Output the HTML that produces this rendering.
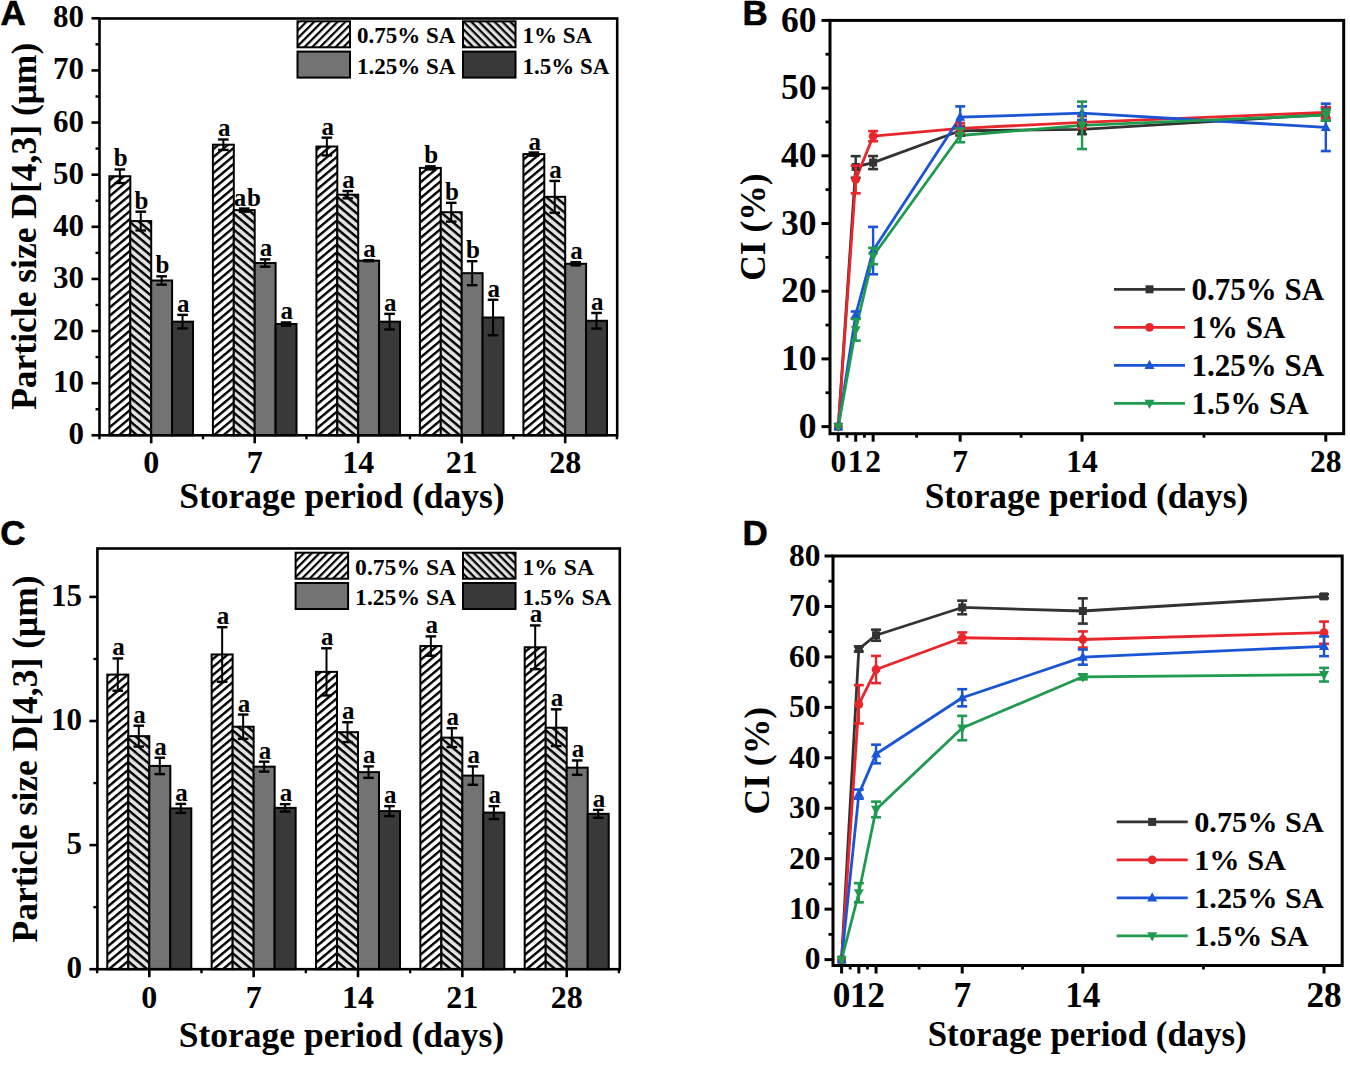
<!DOCTYPE html><html><head><meta charset="utf-8"><style>html,body{margin:0;padding:0;background:#fff}svg{display:block}</style></head><body>
<svg width="1350" height="1066" viewBox="0 0 1350 1066">
<defs>
<pattern id="h1" patternUnits="userSpaceOnUse" width="5.5" height="5.5" patternTransform="rotate(-45)"><rect width="5.5" height="5.5" fill="#fff"/><rect y="0" width="5.5" height="2.2" fill="#000"/></pattern>
<pattern id="h2" patternUnits="userSpaceOnUse" width="5.5" height="5.5" patternTransform="rotate(45)"><rect width="5.5" height="5.5" fill="#e2e2e2"/><rect y="0" width="5.5" height="2.2" fill="#000"/></pattern>
<pattern id="b1" patternUnits="userSpaceOnUse" width="6.1" height="6.1" patternTransform="rotate(-40)"><rect width="6.1" height="6.1" fill="#fff"/><rect y="0" width="6.1" height="2.4" fill="#000"/></pattern>
<pattern id="b2" patternUnits="userSpaceOnUse" width="6.1" height="6.1" patternTransform="rotate(40)"><rect width="6.1" height="6.1" fill="#e2e2e2"/><rect y="0" width="6.1" height="2.4" fill="#000"/></pattern>
</defs>
<rect width="1350" height="1066" fill="#fff"/>
<rect x="109.4" y="176.24" width="20.9" height="259.06" fill="url(#b1)" stroke="#000" stroke-width="2"/>
<rect x="130.3" y="221.07" width="20.9" height="214.23" fill="url(#b2)" stroke="#000" stroke-width="2"/>
<rect x="151.2" y="280.49" width="20.9" height="154.81" fill="#737373" stroke="#000" stroke-width="2"/>
<rect x="172.1" y="321.67" width="20.9" height="113.63" fill="#393939" stroke="#000" stroke-width="2"/>
<rect x="212.9" y="144.7" width="20.9" height="290.6" fill="url(#b1)" stroke="#000" stroke-width="2"/>
<rect x="233.8" y="210.12" width="20.9" height="225.18" fill="url(#b2)" stroke="#000" stroke-width="2"/>
<rect x="254.7" y="263.03" width="20.9" height="172.27" fill="#737373" stroke="#000" stroke-width="2"/>
<rect x="275.6" y="324.01" width="20.9" height="111.29" fill="#393939" stroke="#000" stroke-width="2"/>
<rect x="316.4" y="146.53" width="20.9" height="288.77" fill="url(#b1)" stroke="#000" stroke-width="2"/>
<rect x="337.3" y="194.69" width="20.9" height="240.61" fill="url(#b2)" stroke="#000" stroke-width="2"/>
<rect x="358.2" y="260.68" width="20.9" height="174.62" fill="#737373" stroke="#000" stroke-width="2"/>
<rect x="379.1" y="321.67" width="20.9" height="113.63" fill="#393939" stroke="#000" stroke-width="2"/>
<rect x="419.9" y="167.9" width="20.9" height="267.4" fill="url(#b1)" stroke="#000" stroke-width="2"/>
<rect x="440.8" y="212.21" width="20.9" height="223.09" fill="url(#b2)" stroke="#000" stroke-width="2"/>
<rect x="461.7" y="273.19" width="20.9" height="162.11" fill="#737373" stroke="#000" stroke-width="2"/>
<rect x="482.6" y="317.5" width="20.9" height="117.8" fill="#393939" stroke="#000" stroke-width="2"/>
<rect x="523.4" y="154.09" width="20.9" height="281.21" fill="url(#b1)" stroke="#000" stroke-width="2"/>
<rect x="544.3" y="196.83" width="20.9" height="238.47" fill="url(#b2)" stroke="#000" stroke-width="2"/>
<rect x="565.2" y="263.81" width="20.9" height="171.49" fill="#737373" stroke="#000" stroke-width="2"/>
<rect x="586.1" y="320.78" width="20.9" height="114.52" fill="#393939" stroke="#000" stroke-width="2"/>
<line x1="119.85" y1="169.46" x2="119.85" y2="183.01" stroke="#000" stroke-width="2" stroke-linecap="butt"/>
<line x1="114.55" y1="169.46" x2="125.15" y2="169.46" stroke="#000" stroke-width="2.4" stroke-linecap="butt"/>
<line x1="114.55" y1="183.01" x2="125.15" y2="183.01" stroke="#000" stroke-width="2.4" stroke-linecap="butt"/>
<text x="120.65" y="166.46" font-family='"Liberation Serif", serif' font-weight="bold" font-size="25" text-anchor="middle" >b</text>
<line x1="140.75" y1="211.68" x2="140.75" y2="230.45" stroke="#000" stroke-width="2" stroke-linecap="butt"/>
<line x1="135.45" y1="211.68" x2="146.05" y2="211.68" stroke="#000" stroke-width="2.4" stroke-linecap="butt"/>
<line x1="135.45" y1="230.45" x2="146.05" y2="230.45" stroke="#000" stroke-width="2.4" stroke-linecap="butt"/>
<text x="141.55" y="208.68" font-family='"Liberation Serif", serif' font-weight="bold" font-size="25" text-anchor="middle" >b</text>
<line x1="161.65" y1="276.32" x2="161.65" y2="284.66" stroke="#000" stroke-width="2" stroke-linecap="butt"/>
<line x1="156.35" y1="276.32" x2="166.95" y2="276.32" stroke="#000" stroke-width="2.4" stroke-linecap="butt"/>
<line x1="156.35" y1="284.66" x2="166.95" y2="284.66" stroke="#000" stroke-width="2.4" stroke-linecap="butt"/>
<text x="162.45" y="273.32" font-family='"Liberation Serif", serif' font-weight="bold" font-size="25" text-anchor="middle" >b</text>
<line x1="182.55" y1="314.89" x2="182.55" y2="328.44" stroke="#000" stroke-width="2" stroke-linecap="butt"/>
<line x1="177.25" y1="314.89" x2="187.85" y2="314.89" stroke="#000" stroke-width="2.4" stroke-linecap="butt"/>
<line x1="177.25" y1="328.44" x2="187.85" y2="328.44" stroke="#000" stroke-width="2.4" stroke-linecap="butt"/>
<text x="183.35" y="311.89" font-family='"Liberation Serif", serif' font-weight="bold" font-size="25" text-anchor="middle" >a</text>
<line x1="223.35" y1="139.49" x2="223.35" y2="149.92" stroke="#000" stroke-width="2" stroke-linecap="butt"/>
<line x1="218.05" y1="139.49" x2="228.65" y2="139.49" stroke="#000" stroke-width="2.4" stroke-linecap="butt"/>
<line x1="218.05" y1="149.92" x2="228.65" y2="149.92" stroke="#000" stroke-width="2.4" stroke-linecap="butt"/>
<text x="224.15" y="136.49" font-family='"Liberation Serif", serif' font-weight="bold" font-size="25" text-anchor="middle" >a</text>
<line x1="244.25" y1="208.56" x2="244.25" y2="211.68" stroke="#000" stroke-width="2" stroke-linecap="butt"/>
<line x1="238.95" y1="208.56" x2="249.55" y2="208.56" stroke="#000" stroke-width="2.4" stroke-linecap="butt"/>
<line x1="238.95" y1="211.68" x2="249.55" y2="211.68" stroke="#000" stroke-width="2.4" stroke-linecap="butt"/>
<text x="247.75" y="205.56" font-family='"Liberation Serif", serif' font-weight="bold" font-size="25" text-anchor="middle" letter-spacing="0.8">ab</text>
<line x1="265.15" y1="259.38" x2="265.15" y2="266.68" stroke="#000" stroke-width="2" stroke-linecap="butt"/>
<line x1="259.85" y1="259.38" x2="270.45" y2="259.38" stroke="#000" stroke-width="2.4" stroke-linecap="butt"/>
<line x1="259.85" y1="266.68" x2="270.45" y2="266.68" stroke="#000" stroke-width="2.4" stroke-linecap="butt"/>
<text x="265.95" y="256.38" font-family='"Liberation Serif", serif' font-weight="bold" font-size="25" text-anchor="middle" >a</text>
<line x1="286.05" y1="322.45" x2="286.05" y2="325.58" stroke="#000" stroke-width="2" stroke-linecap="butt"/>
<line x1="280.75" y1="322.45" x2="291.35" y2="322.45" stroke="#000" stroke-width="2.4" stroke-linecap="butt"/>
<line x1="280.75" y1="325.58" x2="291.35" y2="325.58" stroke="#000" stroke-width="2.4" stroke-linecap="butt"/>
<text x="286.85" y="319.45" font-family='"Liberation Serif", serif' font-weight="bold" font-size="25" text-anchor="middle" >a</text>
<line x1="326.85" y1="137.67" x2="326.85" y2="155.39" stroke="#000" stroke-width="2" stroke-linecap="butt"/>
<line x1="321.55" y1="137.67" x2="332.15" y2="137.67" stroke="#000" stroke-width="2.4" stroke-linecap="butt"/>
<line x1="321.55" y1="155.39" x2="332.15" y2="155.39" stroke="#000" stroke-width="2.4" stroke-linecap="butt"/>
<text x="327.65" y="134.67" font-family='"Liberation Serif", serif' font-weight="bold" font-size="25" text-anchor="middle" >a</text>
<line x1="347.75" y1="191.04" x2="347.75" y2="198.34" stroke="#000" stroke-width="2" stroke-linecap="butt"/>
<line x1="342.45" y1="191.04" x2="353.05" y2="191.04" stroke="#000" stroke-width="2.4" stroke-linecap="butt"/>
<line x1="342.45" y1="198.34" x2="353.05" y2="198.34" stroke="#000" stroke-width="2.4" stroke-linecap="butt"/>
<text x="348.55" y="188.04" font-family='"Liberation Serif", serif' font-weight="bold" font-size="25" text-anchor="middle" >a</text>
<line x1="368.65" y1="260.16" x2="368.65" y2="261.2" stroke="#000" stroke-width="2" stroke-linecap="butt"/>
<line x1="363.35" y1="260.16" x2="373.95" y2="260.16" stroke="#000" stroke-width="2.4" stroke-linecap="butt"/>
<line x1="363.35" y1="261.2" x2="373.95" y2="261.2" stroke="#000" stroke-width="2.4" stroke-linecap="butt"/>
<text x="369.45" y="257.16" font-family='"Liberation Serif", serif' font-weight="bold" font-size="25" text-anchor="middle" >a</text>
<line x1="389.55" y1="313.85" x2="389.55" y2="329.49" stroke="#000" stroke-width="2" stroke-linecap="butt"/>
<line x1="384.25" y1="313.85" x2="394.85" y2="313.85" stroke="#000" stroke-width="2.4" stroke-linecap="butt"/>
<line x1="384.25" y1="329.49" x2="394.85" y2="329.49" stroke="#000" stroke-width="2.4" stroke-linecap="butt"/>
<text x="390.35" y="310.85" font-family='"Liberation Serif", serif' font-weight="bold" font-size="25" text-anchor="middle" >a</text>
<line x1="430.35" y1="166.34" x2="430.35" y2="169.46" stroke="#000" stroke-width="2" stroke-linecap="butt"/>
<line x1="425.05" y1="166.34" x2="435.65" y2="166.34" stroke="#000" stroke-width="2.4" stroke-linecap="butt"/>
<line x1="425.05" y1="169.46" x2="435.65" y2="169.46" stroke="#000" stroke-width="2.4" stroke-linecap="butt"/>
<text x="431.15" y="163.34" font-family='"Liberation Serif", serif' font-weight="bold" font-size="25" text-anchor="middle" >b</text>
<line x1="451.25" y1="202.82" x2="451.25" y2="221.59" stroke="#000" stroke-width="2" stroke-linecap="butt"/>
<line x1="445.95" y1="202.82" x2="456.55" y2="202.82" stroke="#000" stroke-width="2.4" stroke-linecap="butt"/>
<line x1="445.95" y1="221.59" x2="456.55" y2="221.59" stroke="#000" stroke-width="2.4" stroke-linecap="butt"/>
<text x="452.05" y="199.82" font-family='"Liberation Serif", serif' font-weight="bold" font-size="25" text-anchor="middle" >b</text>
<line x1="472.15" y1="261.2" x2="472.15" y2="285.18" stroke="#000" stroke-width="2" stroke-linecap="butt"/>
<line x1="466.85" y1="261.2" x2="477.45" y2="261.2" stroke="#000" stroke-width="2.4" stroke-linecap="butt"/>
<line x1="466.85" y1="285.18" x2="477.45" y2="285.18" stroke="#000" stroke-width="2.4" stroke-linecap="butt"/>
<text x="472.95" y="258.2" font-family='"Liberation Serif", serif' font-weight="bold" font-size="25" text-anchor="middle" >b</text>
<line x1="493.05" y1="299.77" x2="493.05" y2="335.22" stroke="#000" stroke-width="2" stroke-linecap="butt"/>
<line x1="487.75" y1="299.77" x2="498.35" y2="299.77" stroke="#000" stroke-width="2.4" stroke-linecap="butt"/>
<line x1="487.75" y1="335.22" x2="498.35" y2="335.22" stroke="#000" stroke-width="2.4" stroke-linecap="butt"/>
<text x="493.85" y="296.77" font-family='"Liberation Serif", serif' font-weight="bold" font-size="25" text-anchor="middle" >a</text>
<line x1="533.85" y1="152.52" x2="533.85" y2="155.65" stroke="#000" stroke-width="2" stroke-linecap="butt"/>
<line x1="528.55" y1="152.52" x2="539.15" y2="152.52" stroke="#000" stroke-width="2.4" stroke-linecap="butt"/>
<line x1="528.55" y1="155.65" x2="539.15" y2="155.65" stroke="#000" stroke-width="2.4" stroke-linecap="butt"/>
<text x="534.65" y="149.52" font-family='"Liberation Serif", serif' font-weight="bold" font-size="25" text-anchor="middle" >a</text>
<line x1="554.75" y1="180.93" x2="554.75" y2="212.73" stroke="#000" stroke-width="2" stroke-linecap="butt"/>
<line x1="549.45" y1="180.93" x2="560.05" y2="180.93" stroke="#000" stroke-width="2.4" stroke-linecap="butt"/>
<line x1="549.45" y1="212.73" x2="560.05" y2="212.73" stroke="#000" stroke-width="2.4" stroke-linecap="butt"/>
<text x="555.55" y="177.93" font-family='"Liberation Serif", serif' font-weight="bold" font-size="25" text-anchor="middle" >a</text>
<line x1="575.65" y1="262.25" x2="575.65" y2="265.37" stroke="#000" stroke-width="2" stroke-linecap="butt"/>
<line x1="570.35" y1="262.25" x2="580.95" y2="262.25" stroke="#000" stroke-width="2.4" stroke-linecap="butt"/>
<line x1="570.35" y1="265.37" x2="580.95" y2="265.37" stroke="#000" stroke-width="2.4" stroke-linecap="butt"/>
<text x="576.45" y="259.25" font-family='"Liberation Serif", serif' font-weight="bold" font-size="25" text-anchor="middle" >a</text>
<line x1="596.55" y1="312.96" x2="596.55" y2="328.6" stroke="#000" stroke-width="2" stroke-linecap="butt"/>
<line x1="591.25" y1="312.96" x2="601.85" y2="312.96" stroke="#000" stroke-width="2.4" stroke-linecap="butt"/>
<line x1="591.25" y1="328.6" x2="601.85" y2="328.6" stroke="#000" stroke-width="2.4" stroke-linecap="butt"/>
<text x="597.35" y="309.96" font-family='"Liberation Serif", serif' font-weight="bold" font-size="25" text-anchor="middle" >a</text>
<rect x="99.5" y="18.5" width="517.7" height="416.8" fill="none" stroke="#000" stroke-width="2.6"/>
<line x1="91.5" y1="435.3" x2="99.5" y2="435.3" stroke="#000" stroke-width="2.6" stroke-linecap="butt"/>
<text x="84" y="444.3" font-family='"Liberation Serif", serif' font-weight="bold" font-size="31" text-anchor="end" >0</text>
<line x1="91.5" y1="383.18" x2="99.5" y2="383.18" stroke="#000" stroke-width="2.6" stroke-linecap="butt"/>
<text x="84" y="392.18" font-family='"Liberation Serif", serif' font-weight="bold" font-size="31" text-anchor="end" >10</text>
<line x1="91.5" y1="331.05" x2="99.5" y2="331.05" stroke="#000" stroke-width="2.6" stroke-linecap="butt"/>
<text x="84" y="340.05" font-family='"Liberation Serif", serif' font-weight="bold" font-size="31" text-anchor="end" >20</text>
<line x1="91.5" y1="278.93" x2="99.5" y2="278.93" stroke="#000" stroke-width="2.6" stroke-linecap="butt"/>
<text x="84" y="287.93" font-family='"Liberation Serif", serif' font-weight="bold" font-size="31" text-anchor="end" >30</text>
<line x1="91.5" y1="226.8" x2="99.5" y2="226.8" stroke="#000" stroke-width="2.6" stroke-linecap="butt"/>
<text x="84" y="235.8" font-family='"Liberation Serif", serif' font-weight="bold" font-size="31" text-anchor="end" >40</text>
<line x1="91.5" y1="174.68" x2="99.5" y2="174.68" stroke="#000" stroke-width="2.6" stroke-linecap="butt"/>
<text x="84" y="183.68" font-family='"Liberation Serif", serif' font-weight="bold" font-size="31" text-anchor="end" >50</text>
<line x1="91.5" y1="122.55" x2="99.5" y2="122.55" stroke="#000" stroke-width="2.6" stroke-linecap="butt"/>
<text x="84" y="131.55" font-family='"Liberation Serif", serif' font-weight="bold" font-size="31" text-anchor="end" >60</text>
<line x1="91.5" y1="70.43" x2="99.5" y2="70.43" stroke="#000" stroke-width="2.6" stroke-linecap="butt"/>
<text x="84" y="79.43" font-family='"Liberation Serif", serif' font-weight="bold" font-size="31" text-anchor="end" >70</text>
<line x1="91.5" y1="18.3" x2="99.5" y2="18.3" stroke="#000" stroke-width="2.6" stroke-linecap="butt"/>
<text x="84" y="27.3" font-family='"Liberation Serif", serif' font-weight="bold" font-size="31" text-anchor="end" >80</text>
<line x1="95.5" y1="409.24" x2="99.5" y2="409.24" stroke="#000" stroke-width="2.4" stroke-linecap="butt"/>
<line x1="95.5" y1="357.11" x2="99.5" y2="357.11" stroke="#000" stroke-width="2.4" stroke-linecap="butt"/>
<line x1="95.5" y1="304.99" x2="99.5" y2="304.99" stroke="#000" stroke-width="2.4" stroke-linecap="butt"/>
<line x1="95.5" y1="252.86" x2="99.5" y2="252.86" stroke="#000" stroke-width="2.4" stroke-linecap="butt"/>
<line x1="95.5" y1="200.74" x2="99.5" y2="200.74" stroke="#000" stroke-width="2.4" stroke-linecap="butt"/>
<line x1="95.5" y1="148.61" x2="99.5" y2="148.61" stroke="#000" stroke-width="2.4" stroke-linecap="butt"/>
<line x1="95.5" y1="96.49" x2="99.5" y2="96.49" stroke="#000" stroke-width="2.4" stroke-linecap="butt"/>
<line x1="95.5" y1="44.36" x2="99.5" y2="44.36" stroke="#000" stroke-width="2.4" stroke-linecap="butt"/>
<line x1="151.2" y1="435.3" x2="151.2" y2="443.3" stroke="#000" stroke-width="2.6" stroke-linecap="butt"/>
<text x="151.2" y="473" font-family='"Liberation Serif", serif' font-weight="bold" font-size="32" text-anchor="middle" >0</text>
<line x1="99.45" y1="435.3" x2="99.45" y2="439.3" stroke="#000" stroke-width="2.4" stroke-linecap="butt"/>
<line x1="254.7" y1="435.3" x2="254.7" y2="443.3" stroke="#000" stroke-width="2.6" stroke-linecap="butt"/>
<text x="254.7" y="473" font-family='"Liberation Serif", serif' font-weight="bold" font-size="32" text-anchor="middle" >7</text>
<line x1="202.95" y1="435.3" x2="202.95" y2="439.3" stroke="#000" stroke-width="2.4" stroke-linecap="butt"/>
<line x1="358.2" y1="435.3" x2="358.2" y2="443.3" stroke="#000" stroke-width="2.6" stroke-linecap="butt"/>
<text x="358.2" y="473" font-family='"Liberation Serif", serif' font-weight="bold" font-size="32" text-anchor="middle" >14</text>
<line x1="306.45" y1="435.3" x2="306.45" y2="439.3" stroke="#000" stroke-width="2.4" stroke-linecap="butt"/>
<line x1="461.7" y1="435.3" x2="461.7" y2="443.3" stroke="#000" stroke-width="2.6" stroke-linecap="butt"/>
<text x="461.7" y="473" font-family='"Liberation Serif", serif' font-weight="bold" font-size="32" text-anchor="middle" >21</text>
<line x1="409.95" y1="435.3" x2="409.95" y2="439.3" stroke="#000" stroke-width="2.4" stroke-linecap="butt"/>
<line x1="565.2" y1="435.3" x2="565.2" y2="443.3" stroke="#000" stroke-width="2.6" stroke-linecap="butt"/>
<text x="565.2" y="473" font-family='"Liberation Serif", serif' font-weight="bold" font-size="32" text-anchor="middle" >28</text>
<line x1="513.45" y1="435.3" x2="513.45" y2="439.3" stroke="#000" stroke-width="2.4" stroke-linecap="butt"/>
<line x1="616.95" y1="435.3" x2="616.95" y2="439.3" stroke="#000" stroke-width="2.4" stroke-linecap="butt"/>
<text x="342" y="508" font-family='"Liberation Serif", serif' font-weight="bold" font-size="35.5" text-anchor="middle" >Storage period (days)</text>
<text transform="translate(35.5,226.3) rotate(-90)" font-family='"Liberation Serif", serif' font-weight="bold" font-size="35.5" text-anchor="middle">Particle size D[4,3] (μm)</text>
<rect x="297.5" y="21.3" width="52.5" height="26" fill="url(#h1)" stroke="#000" stroke-width="2"/>
<text x="357" y="43.3" font-family='"Liberation Serif", serif' font-weight="bold" font-size="23" text-anchor="start" >0.75% SA</text>
<rect x="463" y="21.3" width="52.5" height="26" fill="url(#h2)" stroke="#000" stroke-width="2"/>
<text x="522.5" y="43.3" font-family='"Liberation Serif", serif' font-weight="bold" font-size="23" text-anchor="start" >1% SA</text>
<rect x="297.5" y="51.6" width="52.5" height="26" fill="#737373" stroke="#000" stroke-width="2"/>
<text x="357" y="73.6" font-family='"Liberation Serif", serif' font-weight="bold" font-size="23" text-anchor="start" >1.25% SA</text>
<rect x="463" y="51.6" width="52.5" height="26" fill="#393939" stroke="#000" stroke-width="2"/>
<text x="522.5" y="73.6" font-family='"Liberation Serif", serif' font-weight="bold" font-size="23" text-anchor="start" >1.5% SA</text>
<text x="0.6" y="25.3" font-family='"Liberation Sans", sans-serif' font-weight="bold" font-size="35" text-anchor="start" stroke="#000" stroke-width="0.6">A</text>
<rect x="107.3" y="674.59" width="21" height="294.61" fill="url(#b1)" stroke="#000" stroke-width="2"/>
<rect x="128.3" y="736.14" width="21" height="233.06" fill="url(#b2)" stroke="#000" stroke-width="2"/>
<rect x="149.3" y="765.92" width="21" height="203.28" fill="#737373" stroke="#000" stroke-width="2"/>
<rect x="170.3" y="808.37" width="21" height="160.83" fill="#393939" stroke="#000" stroke-width="2"/>
<rect x="211.65" y="654.48" width="21" height="314.72" fill="url(#b1)" stroke="#000" stroke-width="2"/>
<rect x="232.65" y="726.71" width="21" height="242.49" fill="url(#b2)" stroke="#000" stroke-width="2"/>
<rect x="253.65" y="766.67" width="21" height="202.53" fill="#737373" stroke="#000" stroke-width="2"/>
<rect x="274.65" y="807.87" width="21" height="161.33" fill="#393939" stroke="#000" stroke-width="2"/>
<rect x="316" y="671.86" width="21" height="297.34" fill="url(#b1)" stroke="#000" stroke-width="2"/>
<rect x="337" y="732.17" width="21" height="237.03" fill="url(#b2)" stroke="#000" stroke-width="2"/>
<rect x="358" y="772.13" width="21" height="197.07" fill="#737373" stroke="#000" stroke-width="2"/>
<rect x="379" y="811.1" width="21" height="158.1" fill="#393939" stroke="#000" stroke-width="2"/>
<rect x="420.35" y="646.04" width="21" height="323.16" fill="url(#b1)" stroke="#000" stroke-width="2"/>
<rect x="441.35" y="737.63" width="21" height="231.57" fill="url(#b2)" stroke="#000" stroke-width="2"/>
<rect x="462.35" y="775.6" width="21" height="193.6" fill="#737373" stroke="#000" stroke-width="2"/>
<rect x="483.35" y="812.59" width="21" height="156.61" fill="#393939" stroke="#000" stroke-width="2"/>
<rect x="524.7" y="647.28" width="21" height="321.92" fill="url(#b1)" stroke="#000" stroke-width="2"/>
<rect x="545.7" y="727.7" width="21" height="241.5" fill="url(#b2)" stroke="#000" stroke-width="2"/>
<rect x="566.7" y="767.66" width="21" height="201.54" fill="#737373" stroke="#000" stroke-width="2"/>
<rect x="587.7" y="813.83" width="21" height="155.37" fill="#393939" stroke="#000" stroke-width="2"/>
<line x1="117.8" y1="658.45" x2="117.8" y2="690.72" stroke="#000" stroke-width="2" stroke-linecap="butt"/>
<line x1="112.5" y1="658.45" x2="123.1" y2="658.45" stroke="#000" stroke-width="2.4" stroke-linecap="butt"/>
<line x1="112.5" y1="690.72" x2="123.1" y2="690.72" stroke="#000" stroke-width="2.4" stroke-linecap="butt"/>
<text x="118.6" y="655.45" font-family='"Liberation Serif", serif' font-weight="bold" font-size="25" text-anchor="middle" >a</text>
<line x1="138.8" y1="725.72" x2="138.8" y2="746.56" stroke="#000" stroke-width="2" stroke-linecap="butt"/>
<line x1="133.5" y1="725.72" x2="144.1" y2="725.72" stroke="#000" stroke-width="2.4" stroke-linecap="butt"/>
<line x1="133.5" y1="746.56" x2="144.1" y2="746.56" stroke="#000" stroke-width="2.4" stroke-linecap="butt"/>
<text x="139.6" y="722.72" font-family='"Liberation Serif", serif' font-weight="bold" font-size="25" text-anchor="middle" >a</text>
<line x1="159.8" y1="757.73" x2="159.8" y2="774.11" stroke="#000" stroke-width="2" stroke-linecap="butt"/>
<line x1="154.5" y1="757.73" x2="165.1" y2="757.73" stroke="#000" stroke-width="2.4" stroke-linecap="butt"/>
<line x1="154.5" y1="774.11" x2="165.1" y2="774.11" stroke="#000" stroke-width="2.4" stroke-linecap="butt"/>
<text x="160.6" y="754.73" font-family='"Liberation Serif", serif' font-weight="bold" font-size="25" text-anchor="middle" >a</text>
<line x1="180.8" y1="803.9" x2="180.8" y2="812.83" stroke="#000" stroke-width="2" stroke-linecap="butt"/>
<line x1="175.5" y1="803.9" x2="186.1" y2="803.9" stroke="#000" stroke-width="2.4" stroke-linecap="butt"/>
<line x1="175.5" y1="812.83" x2="186.1" y2="812.83" stroke="#000" stroke-width="2.4" stroke-linecap="butt"/>
<text x="181.6" y="800.9" font-family='"Liberation Serif", serif' font-weight="bold" font-size="25" text-anchor="middle" >a</text>
<line x1="222.15" y1="627.18" x2="222.15" y2="681.78" stroke="#000" stroke-width="2" stroke-linecap="butt"/>
<line x1="216.85" y1="627.18" x2="227.45" y2="627.18" stroke="#000" stroke-width="2.4" stroke-linecap="butt"/>
<line x1="216.85" y1="681.78" x2="227.45" y2="681.78" stroke="#000" stroke-width="2.4" stroke-linecap="butt"/>
<text x="222.95" y="624.18" font-family='"Liberation Serif", serif' font-weight="bold" font-size="25" text-anchor="middle" >a</text>
<line x1="243.15" y1="714.55" x2="243.15" y2="738.87" stroke="#000" stroke-width="2" stroke-linecap="butt"/>
<line x1="237.85" y1="714.55" x2="248.45" y2="714.55" stroke="#000" stroke-width="2.4" stroke-linecap="butt"/>
<line x1="237.85" y1="738.87" x2="248.45" y2="738.87" stroke="#000" stroke-width="2.4" stroke-linecap="butt"/>
<text x="243.95" y="711.55" font-family='"Liberation Serif", serif' font-weight="bold" font-size="25" text-anchor="middle" >a</text>
<line x1="264.15" y1="761.7" x2="264.15" y2="771.63" stroke="#000" stroke-width="2" stroke-linecap="butt"/>
<line x1="258.85" y1="761.7" x2="269.45" y2="761.7" stroke="#000" stroke-width="2.4" stroke-linecap="butt"/>
<line x1="258.85" y1="771.63" x2="269.45" y2="771.63" stroke="#000" stroke-width="2.4" stroke-linecap="butt"/>
<text x="264.95" y="758.7" font-family='"Liberation Serif", serif' font-weight="bold" font-size="25" text-anchor="middle" >a</text>
<line x1="285.15" y1="804.15" x2="285.15" y2="811.59" stroke="#000" stroke-width="2" stroke-linecap="butt"/>
<line x1="279.85" y1="804.15" x2="290.45" y2="804.15" stroke="#000" stroke-width="2.4" stroke-linecap="butt"/>
<line x1="279.85" y1="811.59" x2="290.45" y2="811.59" stroke="#000" stroke-width="2.4" stroke-linecap="butt"/>
<text x="285.95" y="801.15" font-family='"Liberation Serif", serif' font-weight="bold" font-size="25" text-anchor="middle" >a</text>
<line x1="326.5" y1="648.28" x2="326.5" y2="695.44" stroke="#000" stroke-width="2" stroke-linecap="butt"/>
<line x1="321.2" y1="648.28" x2="331.8" y2="648.28" stroke="#000" stroke-width="2.4" stroke-linecap="butt"/>
<line x1="321.2" y1="695.44" x2="331.8" y2="695.44" stroke="#000" stroke-width="2.4" stroke-linecap="butt"/>
<text x="327.3" y="645.28" font-family='"Liberation Serif", serif' font-weight="bold" font-size="25" text-anchor="middle" >a</text>
<line x1="347.5" y1="722.24" x2="347.5" y2="742.1" stroke="#000" stroke-width="2" stroke-linecap="butt"/>
<line x1="342.2" y1="722.24" x2="352.8" y2="722.24" stroke="#000" stroke-width="2.4" stroke-linecap="butt"/>
<line x1="342.2" y1="742.1" x2="352.8" y2="742.1" stroke="#000" stroke-width="2.4" stroke-linecap="butt"/>
<text x="348.3" y="719.24" font-family='"Liberation Serif", serif' font-weight="bold" font-size="25" text-anchor="middle" >a</text>
<line x1="368.5" y1="766.42" x2="368.5" y2="777.84" stroke="#000" stroke-width="2" stroke-linecap="butt"/>
<line x1="363.2" y1="766.42" x2="373.8" y2="766.42" stroke="#000" stroke-width="2.4" stroke-linecap="butt"/>
<line x1="363.2" y1="777.84" x2="373.8" y2="777.84" stroke="#000" stroke-width="2.4" stroke-linecap="butt"/>
<text x="369.3" y="763.42" font-family='"Liberation Serif", serif' font-weight="bold" font-size="25" text-anchor="middle" >a</text>
<line x1="389.5" y1="806.13" x2="389.5" y2="816.06" stroke="#000" stroke-width="2" stroke-linecap="butt"/>
<line x1="384.2" y1="806.13" x2="394.8" y2="806.13" stroke="#000" stroke-width="2.4" stroke-linecap="butt"/>
<line x1="384.2" y1="816.06" x2="394.8" y2="816.06" stroke="#000" stroke-width="2.4" stroke-linecap="butt"/>
<text x="390.3" y="803.13" font-family='"Liberation Serif", serif' font-weight="bold" font-size="25" text-anchor="middle" >a</text>
<line x1="430.85" y1="636.36" x2="430.85" y2="655.72" stroke="#000" stroke-width="2" stroke-linecap="butt"/>
<line x1="425.55" y1="636.36" x2="436.15" y2="636.36" stroke="#000" stroke-width="2.4" stroke-linecap="butt"/>
<line x1="425.55" y1="655.72" x2="436.15" y2="655.72" stroke="#000" stroke-width="2.4" stroke-linecap="butt"/>
<text x="431.65" y="633.36" font-family='"Liberation Serif", serif' font-weight="bold" font-size="25" text-anchor="middle" >a</text>
<line x1="451.85" y1="728.2" x2="451.85" y2="747.06" stroke="#000" stroke-width="2" stroke-linecap="butt"/>
<line x1="446.55" y1="728.2" x2="457.15" y2="728.2" stroke="#000" stroke-width="2.4" stroke-linecap="butt"/>
<line x1="446.55" y1="747.06" x2="457.15" y2="747.06" stroke="#000" stroke-width="2.4" stroke-linecap="butt"/>
<text x="452.65" y="725.2" font-family='"Liberation Serif", serif' font-weight="bold" font-size="25" text-anchor="middle" >a</text>
<line x1="472.85" y1="766.42" x2="472.85" y2="784.79" stroke="#000" stroke-width="2" stroke-linecap="butt"/>
<line x1="467.55" y1="766.42" x2="478.15" y2="766.42" stroke="#000" stroke-width="2.4" stroke-linecap="butt"/>
<line x1="467.55" y1="784.79" x2="478.15" y2="784.79" stroke="#000" stroke-width="2.4" stroke-linecap="butt"/>
<text x="473.65" y="763.42" font-family='"Liberation Serif", serif' font-weight="bold" font-size="25" text-anchor="middle" >a</text>
<line x1="493.85" y1="806.13" x2="493.85" y2="819.04" stroke="#000" stroke-width="2" stroke-linecap="butt"/>
<line x1="488.55" y1="806.13" x2="499.15" y2="806.13" stroke="#000" stroke-width="2.4" stroke-linecap="butt"/>
<line x1="488.55" y1="819.04" x2="499.15" y2="819.04" stroke="#000" stroke-width="2.4" stroke-linecap="butt"/>
<text x="494.65" y="803.13" font-family='"Liberation Serif", serif' font-weight="bold" font-size="25" text-anchor="middle" >a</text>
<line x1="535.2" y1="625.44" x2="535.2" y2="669.13" stroke="#000" stroke-width="2" stroke-linecap="butt"/>
<line x1="529.9" y1="625.44" x2="540.5" y2="625.44" stroke="#000" stroke-width="2.4" stroke-linecap="butt"/>
<line x1="529.9" y1="669.13" x2="540.5" y2="669.13" stroke="#000" stroke-width="2.4" stroke-linecap="butt"/>
<text x="536" y="622.44" font-family='"Liberation Serif", serif' font-weight="bold" font-size="25" text-anchor="middle" >a</text>
<line x1="556.2" y1="709.33" x2="556.2" y2="746.07" stroke="#000" stroke-width="2" stroke-linecap="butt"/>
<line x1="550.9" y1="709.33" x2="561.5" y2="709.33" stroke="#000" stroke-width="2.4" stroke-linecap="butt"/>
<line x1="550.9" y1="746.07" x2="561.5" y2="746.07" stroke="#000" stroke-width="2.4" stroke-linecap="butt"/>
<text x="557" y="706.33" font-family='"Liberation Serif", serif' font-weight="bold" font-size="25" text-anchor="middle" >a</text>
<line x1="577.2" y1="760.46" x2="577.2" y2="774.86" stroke="#000" stroke-width="2" stroke-linecap="butt"/>
<line x1="571.9" y1="760.46" x2="582.5" y2="760.46" stroke="#000" stroke-width="2.4" stroke-linecap="butt"/>
<line x1="571.9" y1="774.86" x2="582.5" y2="774.86" stroke="#000" stroke-width="2.4" stroke-linecap="butt"/>
<text x="578" y="757.46" font-family='"Liberation Serif", serif' font-weight="bold" font-size="25" text-anchor="middle" >a</text>
<line x1="598.2" y1="809.86" x2="598.2" y2="817.8" stroke="#000" stroke-width="2" stroke-linecap="butt"/>
<line x1="592.9" y1="809.86" x2="603.5" y2="809.86" stroke="#000" stroke-width="2.4" stroke-linecap="butt"/>
<line x1="592.9" y1="817.8" x2="603.5" y2="817.8" stroke="#000" stroke-width="2.4" stroke-linecap="butt"/>
<text x="599" y="806.86" font-family='"Liberation Serif", serif' font-weight="bold" font-size="25" text-anchor="middle" >a</text>
<rect x="97.4" y="548.5" width="522.4" height="420.7" fill="none" stroke="#000" stroke-width="2.6"/>
<line x1="89.4" y1="969.2" x2="97.4" y2="969.2" stroke="#000" stroke-width="2.6" stroke-linecap="butt"/>
<text x="81.9" y="978.2" font-family='"Liberation Serif", serif' font-weight="bold" font-size="31" text-anchor="end" >0</text>
<line x1="89.4" y1="845.1" x2="97.4" y2="845.1" stroke="#000" stroke-width="2.6" stroke-linecap="butt"/>
<text x="81.9" y="854.1" font-family='"Liberation Serif", serif' font-weight="bold" font-size="31" text-anchor="end" >5</text>
<line x1="89.4" y1="721" x2="97.4" y2="721" stroke="#000" stroke-width="2.6" stroke-linecap="butt"/>
<text x="81.9" y="730" font-family='"Liberation Serif", serif' font-weight="bold" font-size="31" text-anchor="end" >10</text>
<line x1="89.4" y1="596.9" x2="97.4" y2="596.9" stroke="#000" stroke-width="2.6" stroke-linecap="butt"/>
<text x="81.9" y="605.9" font-family='"Liberation Serif", serif' font-weight="bold" font-size="31" text-anchor="end" >15</text>
<line x1="93.4" y1="907.15" x2="97.4" y2="907.15" stroke="#000" stroke-width="2.4" stroke-linecap="butt"/>
<line x1="93.4" y1="783.05" x2="97.4" y2="783.05" stroke="#000" stroke-width="2.4" stroke-linecap="butt"/>
<line x1="93.4" y1="658.95" x2="97.4" y2="658.95" stroke="#000" stroke-width="2.4" stroke-linecap="butt"/>
<line x1="149.3" y1="969.2" x2="149.3" y2="977.2" stroke="#000" stroke-width="2.6" stroke-linecap="butt"/>
<text x="149.3" y="1007.5" font-family='"Liberation Serif", serif' font-weight="bold" font-size="32" text-anchor="middle" >0</text>
<line x1="97.13" y1="969.2" x2="97.13" y2="973.2" stroke="#000" stroke-width="2.4" stroke-linecap="butt"/>
<line x1="253.65" y1="969.2" x2="253.65" y2="977.2" stroke="#000" stroke-width="2.6" stroke-linecap="butt"/>
<text x="253.65" y="1007.5" font-family='"Liberation Serif", serif' font-weight="bold" font-size="32" text-anchor="middle" >7</text>
<line x1="201.48" y1="969.2" x2="201.48" y2="973.2" stroke="#000" stroke-width="2.4" stroke-linecap="butt"/>
<line x1="358" y1="969.2" x2="358" y2="977.2" stroke="#000" stroke-width="2.6" stroke-linecap="butt"/>
<text x="358" y="1007.5" font-family='"Liberation Serif", serif' font-weight="bold" font-size="32" text-anchor="middle" >14</text>
<line x1="305.82" y1="969.2" x2="305.82" y2="973.2" stroke="#000" stroke-width="2.4" stroke-linecap="butt"/>
<line x1="462.35" y1="969.2" x2="462.35" y2="977.2" stroke="#000" stroke-width="2.6" stroke-linecap="butt"/>
<text x="462.35" y="1007.5" font-family='"Liberation Serif", serif' font-weight="bold" font-size="32" text-anchor="middle" >21</text>
<line x1="410.17" y1="969.2" x2="410.17" y2="973.2" stroke="#000" stroke-width="2.4" stroke-linecap="butt"/>
<line x1="566.7" y1="969.2" x2="566.7" y2="977.2" stroke="#000" stroke-width="2.6" stroke-linecap="butt"/>
<text x="566.7" y="1007.5" font-family='"Liberation Serif", serif' font-weight="bold" font-size="32" text-anchor="middle" >28</text>
<line x1="514.53" y1="969.2" x2="514.53" y2="973.2" stroke="#000" stroke-width="2.4" stroke-linecap="butt"/>
<line x1="618.88" y1="969.2" x2="618.88" y2="973.2" stroke="#000" stroke-width="2.4" stroke-linecap="butt"/>
<text x="341.5" y="1047" font-family='"Liberation Serif", serif' font-weight="bold" font-size="35.5" text-anchor="middle" >Storage period (days)</text>
<text transform="translate(37,759) rotate(-90)" font-family='"Liberation Serif", serif' font-weight="bold" font-size="35.5" text-anchor="middle">Particle size D[4,3] (μm)</text>
<rect x="295.6" y="552.7" width="52.5" height="26" fill="url(#h1)" stroke="#000" stroke-width="2"/>
<text x="355.1" y="574.7" font-family='"Liberation Serif", serif' font-weight="bold" font-size="23.6" text-anchor="start" >0.75% SA</text>
<rect x="463" y="552.7" width="52.5" height="26" fill="url(#h2)" stroke="#000" stroke-width="2"/>
<text x="522.5" y="574.7" font-family='"Liberation Serif", serif' font-weight="bold" font-size="23.6" text-anchor="start" >1% SA</text>
<rect x="295.6" y="583" width="52.5" height="26" fill="#737373" stroke="#000" stroke-width="2"/>
<text x="355.1" y="605" font-family='"Liberation Serif", serif' font-weight="bold" font-size="23.6" text-anchor="start" >1.25% SA</text>
<rect x="463" y="583" width="52.5" height="26" fill="#393939" stroke="#000" stroke-width="2"/>
<text x="522.5" y="605" font-family='"Liberation Serif", serif' font-weight="bold" font-size="23.6" text-anchor="start" >1.5% SA</text>
<text x="0.2" y="544.8" font-family='"Liberation Sans", sans-serif' font-weight="bold" font-size="35" text-anchor="start" stroke="#000" stroke-width="0.6">C</text>
<polyline points="838.3,426.6 855.71,166.97 873.12,162.57 960.17,130.75 1082.04,129.4 1325.78,114.5" fill="none" stroke="#333333" stroke-width="2.8" stroke-linejoin="round"/>
<polyline points="838.3,426.6 855.71,179.5 873.12,136.17 960.17,128.38 1082.04,122.29 1325.78,112.47" fill="none" stroke="#e8262c" stroke-width="2.8" stroke-linejoin="round"/>
<polyline points="838.3,426.6 855.71,314.9 873.12,250.58 960.17,117.21 1082.04,113.15 1325.78,127.37" fill="none" stroke="#1a55d6" stroke-width="2.8" stroke-linejoin="round"/>
<polyline points="838.3,426.6 855.71,329.79 873.12,256 960.17,135.49 1082.04,125.34 1325.78,115.18" fill="none" stroke="#1f9a4e" stroke-width="2.8" stroke-linejoin="round"/>
<rect x="834.3" y="422.6" width="8" height="8" fill="#333333"/>
<line x1="855.71" y1="156.14" x2="855.71" y2="177.8" stroke="#333333" stroke-width="2.4" stroke-linecap="butt"/>
<line x1="850.71" y1="156.14" x2="860.71" y2="156.14" stroke="#333333" stroke-width="2.6" stroke-linecap="butt"/>
<line x1="850.71" y1="177.8" x2="860.71" y2="177.8" stroke="#333333" stroke-width="2.6" stroke-linecap="butt"/>
<rect x="851.71" y="162.97" width="8" height="8" fill="#333333"/>
<line x1="873.12" y1="156.07" x2="873.12" y2="169.07" stroke="#333333" stroke-width="2.4" stroke-linecap="butt"/>
<line x1="868.12" y1="156.07" x2="878.12" y2="156.07" stroke="#333333" stroke-width="2.6" stroke-linecap="butt"/>
<line x1="868.12" y1="169.07" x2="878.12" y2="169.07" stroke="#333333" stroke-width="2.6" stroke-linecap="butt"/>
<rect x="869.12" y="158.57" width="8" height="8" fill="#333333"/>
<line x1="960.17" y1="126.01" x2="960.17" y2="135.49" stroke="#333333" stroke-width="2.4" stroke-linecap="butt"/>
<line x1="955.17" y1="126.01" x2="965.17" y2="126.01" stroke="#333333" stroke-width="2.6" stroke-linecap="butt"/>
<line x1="955.17" y1="135.49" x2="965.17" y2="135.49" stroke="#333333" stroke-width="2.6" stroke-linecap="butt"/>
<rect x="956.17" y="126.75" width="8" height="8" fill="#333333"/>
<line x1="1082.04" y1="124.66" x2="1082.04" y2="134.14" stroke="#333333" stroke-width="2.4" stroke-linecap="butt"/>
<line x1="1077.04" y1="124.66" x2="1087.04" y2="124.66" stroke="#333333" stroke-width="2.6" stroke-linecap="butt"/>
<line x1="1077.04" y1="134.14" x2="1087.04" y2="134.14" stroke="#333333" stroke-width="2.6" stroke-linecap="butt"/>
<rect x="1078.04" y="125.4" width="8" height="8" fill="#333333"/>
<line x1="1325.78" y1="108.41" x2="1325.78" y2="120.6" stroke="#333333" stroke-width="2.4" stroke-linecap="butt"/>
<line x1="1320.78" y1="108.41" x2="1330.78" y2="108.41" stroke="#333333" stroke-width="2.6" stroke-linecap="butt"/>
<line x1="1320.78" y1="120.6" x2="1330.78" y2="120.6" stroke="#333333" stroke-width="2.6" stroke-linecap="butt"/>
<rect x="1321.78" y="110.5" width="8" height="8" fill="#333333"/>
<circle cx="838.3" cy="426.6" r="4.4" fill="#e8262c"/>
<line x1="855.71" y1="165.68" x2="855.71" y2="193.31" stroke="#e8262c" stroke-width="2.4" stroke-linecap="butt"/>
<line x1="850.71" y1="165.68" x2="860.71" y2="165.68" stroke="#e8262c" stroke-width="2.6" stroke-linecap="butt"/>
<line x1="850.71" y1="193.31" x2="860.71" y2="193.31" stroke="#e8262c" stroke-width="2.6" stroke-linecap="butt"/>
<circle cx="855.71" cy="179.5" r="4.4" fill="#e8262c"/>
<line x1="873.12" y1="131.09" x2="873.12" y2="141.24" stroke="#e8262c" stroke-width="2.4" stroke-linecap="butt"/>
<line x1="868.12" y1="131.09" x2="878.12" y2="131.09" stroke="#e8262c" stroke-width="2.6" stroke-linecap="butt"/>
<line x1="868.12" y1="141.24" x2="878.12" y2="141.24" stroke="#e8262c" stroke-width="2.6" stroke-linecap="butt"/>
<circle cx="873.12" cy="136.17" r="4.4" fill="#e8262c"/>
<line x1="960.17" y1="122.97" x2="960.17" y2="133.8" stroke="#e8262c" stroke-width="2.4" stroke-linecap="butt"/>
<line x1="955.17" y1="122.97" x2="965.17" y2="122.97" stroke="#e8262c" stroke-width="2.6" stroke-linecap="butt"/>
<line x1="955.17" y1="133.8" x2="965.17" y2="133.8" stroke="#e8262c" stroke-width="2.6" stroke-linecap="butt"/>
<circle cx="960.17" cy="128.38" r="4.4" fill="#e8262c"/>
<line x1="1082.04" y1="116.2" x2="1082.04" y2="128.38" stroke="#e8262c" stroke-width="2.4" stroke-linecap="butt"/>
<line x1="1077.04" y1="116.2" x2="1087.04" y2="116.2" stroke="#e8262c" stroke-width="2.6" stroke-linecap="butt"/>
<line x1="1077.04" y1="128.38" x2="1087.04" y2="128.38" stroke="#e8262c" stroke-width="2.6" stroke-linecap="butt"/>
<circle cx="1082.04" cy="122.29" r="4.4" fill="#e8262c"/>
<line x1="1325.78" y1="107.06" x2="1325.78" y2="117.89" stroke="#e8262c" stroke-width="2.4" stroke-linecap="butt"/>
<line x1="1320.78" y1="107.06" x2="1330.78" y2="107.06" stroke="#e8262c" stroke-width="2.6" stroke-linecap="butt"/>
<line x1="1320.78" y1="117.89" x2="1330.78" y2="117.89" stroke="#e8262c" stroke-width="2.6" stroke-linecap="butt"/>
<circle cx="1325.78" cy="112.47" r="4.4" fill="#e8262c"/>
<path d="M838.3 421 L843.3 430.2 L833.3 430.2 Z" fill="#1a55d6"/>
<line x1="855.71" y1="311.51" x2="855.71" y2="318.28" stroke="#1a55d6" stroke-width="2.4" stroke-linecap="butt"/>
<line x1="850.71" y1="311.51" x2="860.71" y2="311.51" stroke="#1a55d6" stroke-width="2.6" stroke-linecap="butt"/>
<line x1="850.71" y1="318.28" x2="860.71" y2="318.28" stroke="#1a55d6" stroke-width="2.6" stroke-linecap="butt"/>
<path d="M855.71 309.3 L860.71 318.5 L850.71 318.5 Z" fill="#1a55d6"/>
<line x1="873.12" y1="226.89" x2="873.12" y2="274.28" stroke="#1a55d6" stroke-width="2.4" stroke-linecap="butt"/>
<line x1="868.12" y1="226.89" x2="878.12" y2="226.89" stroke="#1a55d6" stroke-width="2.6" stroke-linecap="butt"/>
<line x1="868.12" y1="274.28" x2="878.12" y2="274.28" stroke="#1a55d6" stroke-width="2.6" stroke-linecap="butt"/>
<path d="M873.12 244.98 L878.12 254.18 L868.12 254.18 Z" fill="#1a55d6"/>
<line x1="960.17" y1="106.38" x2="960.17" y2="128.04" stroke="#1a55d6" stroke-width="2.4" stroke-linecap="butt"/>
<line x1="955.17" y1="106.38" x2="965.17" y2="106.38" stroke="#1a55d6" stroke-width="2.6" stroke-linecap="butt"/>
<line x1="955.17" y1="128.04" x2="965.17" y2="128.04" stroke="#1a55d6" stroke-width="2.6" stroke-linecap="butt"/>
<path d="M960.17 111.61 L965.17 120.81 L955.17 120.81 Z" fill="#1a55d6"/>
<line x1="1082.04" y1="106.38" x2="1082.04" y2="119.92" stroke="#1a55d6" stroke-width="2.4" stroke-linecap="butt"/>
<line x1="1077.04" y1="106.38" x2="1087.04" y2="106.38" stroke="#1a55d6" stroke-width="2.6" stroke-linecap="butt"/>
<line x1="1077.04" y1="119.92" x2="1087.04" y2="119.92" stroke="#1a55d6" stroke-width="2.6" stroke-linecap="butt"/>
<path d="M1082.04 107.55 L1087.04 116.75 L1077.04 116.75 Z" fill="#1a55d6"/>
<line x1="1325.78" y1="103.67" x2="1325.78" y2="151.06" stroke="#1a55d6" stroke-width="2.4" stroke-linecap="butt"/>
<line x1="1320.78" y1="103.67" x2="1330.78" y2="103.67" stroke="#1a55d6" stroke-width="2.6" stroke-linecap="butt"/>
<line x1="1320.78" y1="151.06" x2="1330.78" y2="151.06" stroke="#1a55d6" stroke-width="2.6" stroke-linecap="butt"/>
<path d="M1325.78 121.77 L1330.78 130.97 L1320.78 130.97 Z" fill="#1a55d6"/>
<path d="M838.3 432.2 L843.3 423 L833.3 423 Z" fill="#1f9a4e"/>
<line x1="855.71" y1="318.96" x2="855.71" y2="340.62" stroke="#1f9a4e" stroke-width="2.4" stroke-linecap="butt"/>
<line x1="850.71" y1="318.96" x2="860.71" y2="318.96" stroke="#1f9a4e" stroke-width="2.6" stroke-linecap="butt"/>
<line x1="850.71" y1="340.62" x2="860.71" y2="340.62" stroke="#1f9a4e" stroke-width="2.6" stroke-linecap="butt"/>
<path d="M855.71 335.39 L860.71 326.19 L850.71 326.19 Z" fill="#1f9a4e"/>
<line x1="873.12" y1="247.87" x2="873.12" y2="264.12" stroke="#1f9a4e" stroke-width="2.4" stroke-linecap="butt"/>
<line x1="868.12" y1="247.87" x2="878.12" y2="247.87" stroke="#1f9a4e" stroke-width="2.6" stroke-linecap="butt"/>
<line x1="868.12" y1="264.12" x2="878.12" y2="264.12" stroke="#1f9a4e" stroke-width="2.6" stroke-linecap="butt"/>
<path d="M873.12 261.6 L878.12 252.4 L868.12 252.4 Z" fill="#1f9a4e"/>
<line x1="960.17" y1="128.72" x2="960.17" y2="142.26" stroke="#1f9a4e" stroke-width="2.4" stroke-linecap="butt"/>
<line x1="955.17" y1="128.72" x2="965.17" y2="128.72" stroke="#1f9a4e" stroke-width="2.6" stroke-linecap="butt"/>
<line x1="955.17" y1="142.26" x2="965.17" y2="142.26" stroke="#1f9a4e" stroke-width="2.6" stroke-linecap="butt"/>
<path d="M960.17 141.09 L965.17 131.89 L955.17 131.89 Z" fill="#1f9a4e"/>
<line x1="1082.04" y1="101.64" x2="1082.04" y2="149.03" stroke="#1f9a4e" stroke-width="2.4" stroke-linecap="butt"/>
<line x1="1077.04" y1="101.64" x2="1087.04" y2="101.64" stroke="#1f9a4e" stroke-width="2.6" stroke-linecap="butt"/>
<line x1="1077.04" y1="149.03" x2="1087.04" y2="149.03" stroke="#1f9a4e" stroke-width="2.6" stroke-linecap="butt"/>
<path d="M1082.04 130.94 L1087.04 121.74 L1077.04 121.74 Z" fill="#1f9a4e"/>
<line x1="1325.78" y1="109.76" x2="1325.78" y2="120.6" stroke="#1f9a4e" stroke-width="2.4" stroke-linecap="butt"/>
<line x1="1320.78" y1="109.76" x2="1330.78" y2="109.76" stroke="#1f9a4e" stroke-width="2.6" stroke-linecap="butt"/>
<line x1="1320.78" y1="120.6" x2="1330.78" y2="120.6" stroke="#1f9a4e" stroke-width="2.6" stroke-linecap="butt"/>
<path d="M1325.78 120.78 L1330.78 111.58 L1320.78 111.58 Z" fill="#1f9a4e"/>
<rect x="830" y="20.4" width="513.7" height="413.3" fill="none" stroke="#000" stroke-width="3"/>
<line x1="821.5" y1="426.6" x2="830" y2="426.6" stroke="#000" stroke-width="3" stroke-linecap="butt"/>
<text x="816.5" y="437.8" font-family='"Liberation Serif", serif' font-weight="bold" font-size="35.5" text-anchor="end" >0</text>
<line x1="821.5" y1="358.9" x2="830" y2="358.9" stroke="#000" stroke-width="3" stroke-linecap="butt"/>
<text x="816.5" y="370.1" font-family='"Liberation Serif", serif' font-weight="bold" font-size="35.5" text-anchor="end" >10</text>
<line x1="821.5" y1="291.2" x2="830" y2="291.2" stroke="#000" stroke-width="3" stroke-linecap="butt"/>
<text x="816.5" y="302.4" font-family='"Liberation Serif", serif' font-weight="bold" font-size="35.5" text-anchor="end" >20</text>
<line x1="821.5" y1="223.5" x2="830" y2="223.5" stroke="#000" stroke-width="3" stroke-linecap="butt"/>
<text x="816.5" y="234.7" font-family='"Liberation Serif", serif' font-weight="bold" font-size="35.5" text-anchor="end" >30</text>
<line x1="821.5" y1="155.8" x2="830" y2="155.8" stroke="#000" stroke-width="3" stroke-linecap="butt"/>
<text x="816.5" y="167" font-family='"Liberation Serif", serif' font-weight="bold" font-size="35.5" text-anchor="end" >40</text>
<line x1="821.5" y1="88.1" x2="830" y2="88.1" stroke="#000" stroke-width="3" stroke-linecap="butt"/>
<text x="816.5" y="99.3" font-family='"Liberation Serif", serif' font-weight="bold" font-size="35.5" text-anchor="end" >50</text>
<line x1="821.5" y1="20.4" x2="830" y2="20.4" stroke="#000" stroke-width="3" stroke-linecap="butt"/>
<text x="816.5" y="31.6" font-family='"Liberation Serif", serif' font-weight="bold" font-size="35.5" text-anchor="end" >60</text>
<line x1="825.5" y1="392.75" x2="830" y2="392.75" stroke="#000" stroke-width="2.8" stroke-linecap="butt"/>
<line x1="825.5" y1="325.05" x2="830" y2="325.05" stroke="#000" stroke-width="2.8" stroke-linecap="butt"/>
<line x1="825.5" y1="257.35" x2="830" y2="257.35" stroke="#000" stroke-width="2.8" stroke-linecap="butt"/>
<line x1="825.5" y1="189.65" x2="830" y2="189.65" stroke="#000" stroke-width="2.8" stroke-linecap="butt"/>
<line x1="825.5" y1="121.95" x2="830" y2="121.95" stroke="#000" stroke-width="2.8" stroke-linecap="butt"/>
<line x1="825.5" y1="54.25" x2="830" y2="54.25" stroke="#000" stroke-width="2.8" stroke-linecap="butt"/>
<line x1="838.3" y1="433.7" x2="838.3" y2="441.7" stroke="#000" stroke-width="3" stroke-linecap="butt"/>
<line x1="855.71" y1="433.7" x2="855.71" y2="441.7" stroke="#000" stroke-width="3" stroke-linecap="butt"/>
<line x1="873.12" y1="433.7" x2="873.12" y2="441.7" stroke="#000" stroke-width="3" stroke-linecap="butt"/>
<line x1="960.17" y1="433.7" x2="960.17" y2="441.7" stroke="#000" stroke-width="3" stroke-linecap="butt"/>
<line x1="1082.04" y1="433.7" x2="1082.04" y2="441.7" stroke="#000" stroke-width="3" stroke-linecap="butt"/>
<line x1="1325.78" y1="433.7" x2="1325.78" y2="441.7" stroke="#000" stroke-width="3" stroke-linecap="butt"/>
<line x1="847" y1="433.7" x2="847" y2="437.7" stroke="#000" stroke-width="2.8" stroke-linecap="butt"/>
<line x1="864.41" y1="433.7" x2="864.41" y2="437.7" stroke="#000" stroke-width="2.8" stroke-linecap="butt"/>
<line x1="916.64" y1="433.7" x2="916.64" y2="437.7" stroke="#000" stroke-width="2.8" stroke-linecap="butt"/>
<line x1="1021.11" y1="433.7" x2="1021.11" y2="437.7" stroke="#000" stroke-width="2.8" stroke-linecap="butt"/>
<line x1="1203.91" y1="433.7" x2="1203.91" y2="437.7" stroke="#000" stroke-width="2.8" stroke-linecap="butt"/>
<text x="838.3" y="471.7" font-family='"Liberation Serif", serif' font-weight="bold" font-size="31.5" text-anchor="middle" >0</text>
<text x="855.71" y="471.7" font-family='"Liberation Serif", serif' font-weight="bold" font-size="31.5" text-anchor="middle" >1</text>
<text x="873.12" y="471.7" font-family='"Liberation Serif", serif' font-weight="bold" font-size="31.5" text-anchor="middle" >2</text>
<text x="960.17" y="471.7" font-family='"Liberation Serif", serif' font-weight="bold" font-size="31.5" text-anchor="middle" >7</text>
<text x="1082.04" y="471.7" font-family='"Liberation Serif", serif' font-weight="bold" font-size="31.5" text-anchor="middle" >14</text>
<text x="1325.78" y="471.7" font-family='"Liberation Serif", serif' font-weight="bold" font-size="31.5" text-anchor="middle" >28</text>
<text x="1086.4" y="508.3" font-family='"Liberation Serif", serif' font-weight="bold" font-size="35.3" text-anchor="middle" >Storage period (days)</text>
<text transform="translate(765,227.05) rotate(-90)" font-family='"Liberation Serif", serif' font-weight="bold" font-size="35.5" text-anchor="middle">CI (%)</text>
<line x1="1114" y1="289.3" x2="1185" y2="289.3" stroke="#333333" stroke-width="2.8" stroke-linecap="butt"/>
<rect x="1145.5" y="285.3" width="8" height="8" fill="#333333"/>
<text x="1191.5" y="299.8" font-family='"Liberation Serif", serif' font-weight="bold" font-size="31" text-anchor="start" >0.75% SA</text>
<line x1="1114" y1="327.3" x2="1185" y2="327.3" stroke="#e8262c" stroke-width="2.8" stroke-linecap="butt"/>
<circle cx="1149.5" cy="327.3" r="4.4" fill="#e8262c"/>
<text x="1191.5" y="337.8" font-family='"Liberation Serif", serif' font-weight="bold" font-size="31" text-anchor="start" >1% SA</text>
<line x1="1114" y1="365.3" x2="1185" y2="365.3" stroke="#1a55d6" stroke-width="2.8" stroke-linecap="butt"/>
<path d="M1149.5 359.7 L1154.5 368.9 L1144.5 368.9 Z" fill="#1a55d6"/>
<text x="1191.5" y="375.8" font-family='"Liberation Serif", serif' font-weight="bold" font-size="31" text-anchor="start" >1.25% SA</text>
<line x1="1114" y1="403.3" x2="1185" y2="403.3" stroke="#1f9a4e" stroke-width="2.8" stroke-linecap="butt"/>
<path d="M1149.5 408.9 L1154.5 399.7 L1144.5 399.7 Z" fill="#1f9a4e"/>
<text x="1191.5" y="413.8" font-family='"Liberation Serif", serif' font-weight="bold" font-size="31" text-anchor="start" >1.5% SA</text>
<text x="742.4" y="25.4" font-family='"Liberation Sans", sans-serif' font-weight="bold" font-size="35" text-anchor="start" stroke="#000" stroke-width="0.6">B</text>
<polyline points="841.6,959.6 858.83,649.03 876.06,635.21 962.21,607.46 1082.82,610.99 1324.04,596.36" fill="none" stroke="#333333" stroke-width="2.8" stroke-linejoin="round"/>
<polyline points="841.6,959.6 858.83,704.32 876.06,669.51 962.21,637.73 1082.82,639.49 1324.04,632.68" fill="none" stroke="#e8262c" stroke-width="2.8" stroke-linejoin="round"/>
<polyline points="841.6,959.6 858.83,794.12 876.06,754.02 962.21,697.76 1082.82,657.1 1324.04,646.31" fill="none" stroke="#1a55d6" stroke-width="2.8" stroke-linejoin="round"/>
<polyline points="841.6,959.6 858.83,892.75 876.06,809.46 962.21,728.03 1082.82,676.83 1324.04,674.71" fill="none" stroke="#1f9a4e" stroke-width="2.8" stroke-linejoin="round"/>
<rect x="837.6" y="955.6" width="8" height="8" fill="#333333"/>
<line x1="858.83" y1="646.51" x2="858.83" y2="651.55" stroke="#333333" stroke-width="2.4" stroke-linecap="butt"/>
<line x1="853.83" y1="646.51" x2="863.83" y2="646.51" stroke="#333333" stroke-width="2.6" stroke-linecap="butt"/>
<line x1="853.83" y1="651.55" x2="863.83" y2="651.55" stroke="#333333" stroke-width="2.6" stroke-linecap="butt"/>
<rect x="854.83" y="645.03" width="8" height="8" fill="#333333"/>
<line x1="876.06" y1="629.66" x2="876.06" y2="640.76" stroke="#333333" stroke-width="2.4" stroke-linecap="butt"/>
<line x1="871.06" y1="629.66" x2="881.06" y2="629.66" stroke="#333333" stroke-width="2.6" stroke-linecap="butt"/>
<line x1="871.06" y1="640.76" x2="881.06" y2="640.76" stroke="#333333" stroke-width="2.6" stroke-linecap="butt"/>
<rect x="872.06" y="631.21" width="8" height="8" fill="#333333"/>
<line x1="962.21" y1="600.65" x2="962.21" y2="614.27" stroke="#333333" stroke-width="2.4" stroke-linecap="butt"/>
<line x1="957.21" y1="600.65" x2="967.21" y2="600.65" stroke="#333333" stroke-width="2.6" stroke-linecap="butt"/>
<line x1="957.21" y1="614.27" x2="967.21" y2="614.27" stroke="#333333" stroke-width="2.6" stroke-linecap="butt"/>
<rect x="958.21" y="603.46" width="8" height="8" fill="#333333"/>
<line x1="1082.82" y1="598.38" x2="1082.82" y2="623.6" stroke="#333333" stroke-width="2.4" stroke-linecap="butt"/>
<line x1="1077.82" y1="598.38" x2="1087.82" y2="598.38" stroke="#333333" stroke-width="2.6" stroke-linecap="butt"/>
<line x1="1077.82" y1="623.6" x2="1087.82" y2="623.6" stroke="#333333" stroke-width="2.6" stroke-linecap="butt"/>
<rect x="1078.82" y="606.99" width="8" height="8" fill="#333333"/>
<line x1="1324.04" y1="594.34" x2="1324.04" y2="598.38" stroke="#333333" stroke-width="2.4" stroke-linecap="butt"/>
<line x1="1319.04" y1="594.34" x2="1329.04" y2="594.34" stroke="#333333" stroke-width="2.6" stroke-linecap="butt"/>
<line x1="1319.04" y1="598.38" x2="1329.04" y2="598.38" stroke="#333333" stroke-width="2.6" stroke-linecap="butt"/>
<rect x="1320.04" y="592.36" width="8" height="8" fill="#333333"/>
<circle cx="841.6" cy="959.6" r="4.4" fill="#e8262c"/>
<line x1="858.83" y1="685.15" x2="858.83" y2="723.49" stroke="#e8262c" stroke-width="2.4" stroke-linecap="butt"/>
<line x1="853.83" y1="685.15" x2="863.83" y2="685.15" stroke="#e8262c" stroke-width="2.6" stroke-linecap="butt"/>
<line x1="853.83" y1="723.49" x2="863.83" y2="723.49" stroke="#e8262c" stroke-width="2.6" stroke-linecap="butt"/>
<circle cx="858.83" cy="704.32" r="4.4" fill="#e8262c"/>
<line x1="876.06" y1="655.89" x2="876.06" y2="683.13" stroke="#e8262c" stroke-width="2.4" stroke-linecap="butt"/>
<line x1="871.06" y1="655.89" x2="881.06" y2="655.89" stroke="#e8262c" stroke-width="2.6" stroke-linecap="butt"/>
<line x1="871.06" y1="683.13" x2="881.06" y2="683.13" stroke="#e8262c" stroke-width="2.6" stroke-linecap="butt"/>
<circle cx="876.06" cy="669.51" r="4.4" fill="#e8262c"/>
<line x1="962.21" y1="632.43" x2="962.21" y2="643.03" stroke="#e8262c" stroke-width="2.4" stroke-linecap="butt"/>
<line x1="957.21" y1="632.43" x2="967.21" y2="632.43" stroke="#e8262c" stroke-width="2.6" stroke-linecap="butt"/>
<line x1="957.21" y1="643.03" x2="967.21" y2="643.03" stroke="#e8262c" stroke-width="2.6" stroke-linecap="butt"/>
<circle cx="962.21" cy="637.73" r="4.4" fill="#e8262c"/>
<line x1="1082.82" y1="631.42" x2="1082.82" y2="647.57" stroke="#e8262c" stroke-width="2.4" stroke-linecap="butt"/>
<line x1="1077.82" y1="631.42" x2="1087.82" y2="631.42" stroke="#e8262c" stroke-width="2.6" stroke-linecap="butt"/>
<line x1="1077.82" y1="647.57" x2="1087.82" y2="647.57" stroke="#e8262c" stroke-width="2.6" stroke-linecap="butt"/>
<circle cx="1082.82" cy="639.49" r="4.4" fill="#e8262c"/>
<line x1="1324.04" y1="621.58" x2="1324.04" y2="643.78" stroke="#e8262c" stroke-width="2.4" stroke-linecap="butt"/>
<line x1="1319.04" y1="621.58" x2="1329.04" y2="621.58" stroke="#e8262c" stroke-width="2.6" stroke-linecap="butt"/>
<line x1="1319.04" y1="643.78" x2="1329.04" y2="643.78" stroke="#e8262c" stroke-width="2.6" stroke-linecap="butt"/>
<circle cx="1324.04" cy="632.68" r="4.4" fill="#e8262c"/>
<path d="M841.6 954 L846.6 963.2 L836.6 963.2 Z" fill="#1a55d6"/>
<line x1="858.83" y1="789.58" x2="858.83" y2="798.66" stroke="#1a55d6" stroke-width="2.4" stroke-linecap="butt"/>
<line x1="853.83" y1="789.58" x2="863.83" y2="789.58" stroke="#1a55d6" stroke-width="2.6" stroke-linecap="butt"/>
<line x1="853.83" y1="798.66" x2="863.83" y2="798.66" stroke="#1a55d6" stroke-width="2.6" stroke-linecap="butt"/>
<path d="M858.83 788.52 L863.83 797.72 L853.83 797.72 Z" fill="#1a55d6"/>
<line x1="876.06" y1="744.68" x2="876.06" y2="763.35" stroke="#1a55d6" stroke-width="2.4" stroke-linecap="butt"/>
<line x1="871.06" y1="744.68" x2="881.06" y2="744.68" stroke="#1a55d6" stroke-width="2.6" stroke-linecap="butt"/>
<line x1="871.06" y1="763.35" x2="881.06" y2="763.35" stroke="#1a55d6" stroke-width="2.6" stroke-linecap="butt"/>
<path d="M876.06 748.42 L881.06 757.62 L871.06 757.62 Z" fill="#1a55d6"/>
<line x1="962.21" y1="689.19" x2="962.21" y2="706.34" stroke="#1a55d6" stroke-width="2.4" stroke-linecap="butt"/>
<line x1="957.21" y1="689.19" x2="967.21" y2="689.19" stroke="#1a55d6" stroke-width="2.6" stroke-linecap="butt"/>
<line x1="957.21" y1="706.34" x2="967.21" y2="706.34" stroke="#1a55d6" stroke-width="2.6" stroke-linecap="butt"/>
<path d="M962.21 692.16 L967.21 701.36 L957.21 701.36 Z" fill="#1a55d6"/>
<line x1="1082.82" y1="649.53" x2="1082.82" y2="664.67" stroke="#1a55d6" stroke-width="2.4" stroke-linecap="butt"/>
<line x1="1077.82" y1="649.53" x2="1087.82" y2="649.53" stroke="#1a55d6" stroke-width="2.6" stroke-linecap="butt"/>
<line x1="1077.82" y1="664.67" x2="1087.82" y2="664.67" stroke="#1a55d6" stroke-width="2.6" stroke-linecap="butt"/>
<path d="M1082.82 651.5 L1087.82 660.7 L1077.82 660.7 Z" fill="#1a55d6"/>
<line x1="1324.04" y1="636.47" x2="1324.04" y2="656.14" stroke="#1a55d6" stroke-width="2.4" stroke-linecap="butt"/>
<line x1="1319.04" y1="636.47" x2="1329.04" y2="636.47" stroke="#1a55d6" stroke-width="2.6" stroke-linecap="butt"/>
<line x1="1319.04" y1="656.14" x2="1329.04" y2="656.14" stroke="#1a55d6" stroke-width="2.6" stroke-linecap="butt"/>
<path d="M1324.04 640.71 L1329.04 649.91 L1319.04 649.91 Z" fill="#1a55d6"/>
<path d="M841.6 965.2 L846.6 956 L836.6 956 Z" fill="#1f9a4e"/>
<line x1="858.83" y1="883.17" x2="858.83" y2="902.34" stroke="#1f9a4e" stroke-width="2.4" stroke-linecap="butt"/>
<line x1="853.83" y1="883.17" x2="863.83" y2="883.17" stroke="#1f9a4e" stroke-width="2.6" stroke-linecap="butt"/>
<line x1="853.83" y1="902.34" x2="863.83" y2="902.34" stroke="#1f9a4e" stroke-width="2.6" stroke-linecap="butt"/>
<path d="M858.83 898.35 L863.83 889.15 L853.83 889.15 Z" fill="#1f9a4e"/>
<line x1="876.06" y1="801.64" x2="876.06" y2="817.28" stroke="#1f9a4e" stroke-width="2.4" stroke-linecap="butt"/>
<line x1="871.06" y1="801.64" x2="881.06" y2="801.64" stroke="#1f9a4e" stroke-width="2.6" stroke-linecap="butt"/>
<line x1="871.06" y1="817.28" x2="881.06" y2="817.28" stroke="#1f9a4e" stroke-width="2.6" stroke-linecap="butt"/>
<path d="M876.06 815.06 L881.06 805.86 L871.06 805.86 Z" fill="#1f9a4e"/>
<line x1="962.21" y1="715.83" x2="962.21" y2="740.24" stroke="#1f9a4e" stroke-width="2.4" stroke-linecap="butt"/>
<line x1="957.21" y1="715.83" x2="967.21" y2="715.83" stroke="#1f9a4e" stroke-width="2.6" stroke-linecap="butt"/>
<line x1="957.21" y1="740.24" x2="967.21" y2="740.24" stroke="#1f9a4e" stroke-width="2.6" stroke-linecap="butt"/>
<path d="M962.21 733.63 L967.21 724.43 L957.21 724.43 Z" fill="#1f9a4e"/>
<line x1="1082.82" y1="674.31" x2="1082.82" y2="679.35" stroke="#1f9a4e" stroke-width="2.4" stroke-linecap="butt"/>
<line x1="1077.82" y1="674.31" x2="1087.82" y2="674.31" stroke="#1f9a4e" stroke-width="2.6" stroke-linecap="butt"/>
<line x1="1077.82" y1="679.35" x2="1087.82" y2="679.35" stroke="#1f9a4e" stroke-width="2.6" stroke-linecap="butt"/>
<path d="M1082.82 682.43 L1087.82 673.23 L1077.82 673.23 Z" fill="#1f9a4e"/>
<line x1="1324.04" y1="667.9" x2="1324.04" y2="681.52" stroke="#1f9a4e" stroke-width="2.4" stroke-linecap="butt"/>
<line x1="1319.04" y1="667.9" x2="1329.04" y2="667.9" stroke="#1f9a4e" stroke-width="2.6" stroke-linecap="butt"/>
<line x1="1319.04" y1="681.52" x2="1329.04" y2="681.52" stroke="#1f9a4e" stroke-width="2.6" stroke-linecap="butt"/>
<path d="M1324.04 680.31 L1329.04 671.11 L1319.04 671.11 Z" fill="#1f9a4e"/>
<rect x="833" y="556" width="509.2" height="409.5" fill="none" stroke="#000" stroke-width="3"/>
<line x1="824.5" y1="959.6" x2="833" y2="959.6" stroke="#000" stroke-width="3" stroke-linecap="butt"/>
<text x="820.5" y="969.4" font-family='"Liberation Serif", serif' font-weight="bold" font-size="31.5" text-anchor="end" >0</text>
<line x1="824.5" y1="909.15" x2="833" y2="909.15" stroke="#000" stroke-width="3" stroke-linecap="butt"/>
<text x="820.5" y="918.95" font-family='"Liberation Serif", serif' font-weight="bold" font-size="31.5" text-anchor="end" >10</text>
<line x1="824.5" y1="858.7" x2="833" y2="858.7" stroke="#000" stroke-width="3" stroke-linecap="butt"/>
<text x="820.5" y="868.5" font-family='"Liberation Serif", serif' font-weight="bold" font-size="31.5" text-anchor="end" >20</text>
<line x1="824.5" y1="808.25" x2="833" y2="808.25" stroke="#000" stroke-width="3" stroke-linecap="butt"/>
<text x="820.5" y="818.05" font-family='"Liberation Serif", serif' font-weight="bold" font-size="31.5" text-anchor="end" >30</text>
<line x1="824.5" y1="757.8" x2="833" y2="757.8" stroke="#000" stroke-width="3" stroke-linecap="butt"/>
<text x="820.5" y="767.6" font-family='"Liberation Serif", serif' font-weight="bold" font-size="31.5" text-anchor="end" >40</text>
<line x1="824.5" y1="707.35" x2="833" y2="707.35" stroke="#000" stroke-width="3" stroke-linecap="butt"/>
<text x="820.5" y="717.15" font-family='"Liberation Serif", serif' font-weight="bold" font-size="31.5" text-anchor="end" >50</text>
<line x1="824.5" y1="656.9" x2="833" y2="656.9" stroke="#000" stroke-width="3" stroke-linecap="butt"/>
<text x="820.5" y="666.7" font-family='"Liberation Serif", serif' font-weight="bold" font-size="31.5" text-anchor="end" >60</text>
<line x1="824.5" y1="606.45" x2="833" y2="606.45" stroke="#000" stroke-width="3" stroke-linecap="butt"/>
<text x="820.5" y="616.25" font-family='"Liberation Serif", serif' font-weight="bold" font-size="31.5" text-anchor="end" >70</text>
<line x1="824.5" y1="556" x2="833" y2="556" stroke="#000" stroke-width="3" stroke-linecap="butt"/>
<text x="820.5" y="565.8" font-family='"Liberation Serif", serif' font-weight="bold" font-size="31.5" text-anchor="end" >80</text>
<line x1="828.5" y1="934.38" x2="833" y2="934.38" stroke="#000" stroke-width="2.8" stroke-linecap="butt"/>
<line x1="828.5" y1="883.93" x2="833" y2="883.93" stroke="#000" stroke-width="2.8" stroke-linecap="butt"/>
<line x1="828.5" y1="833.48" x2="833" y2="833.48" stroke="#000" stroke-width="2.8" stroke-linecap="butt"/>
<line x1="828.5" y1="783.03" x2="833" y2="783.03" stroke="#000" stroke-width="2.8" stroke-linecap="butt"/>
<line x1="828.5" y1="732.58" x2="833" y2="732.58" stroke="#000" stroke-width="2.8" stroke-linecap="butt"/>
<line x1="828.5" y1="682.12" x2="833" y2="682.12" stroke="#000" stroke-width="2.8" stroke-linecap="butt"/>
<line x1="828.5" y1="631.67" x2="833" y2="631.67" stroke="#000" stroke-width="2.8" stroke-linecap="butt"/>
<line x1="828.5" y1="581.23" x2="833" y2="581.23" stroke="#000" stroke-width="2.8" stroke-linecap="butt"/>
<line x1="841.6" y1="965.5" x2="841.6" y2="973.5" stroke="#000" stroke-width="3" stroke-linecap="butt"/>
<line x1="858.83" y1="965.5" x2="858.83" y2="973.5" stroke="#000" stroke-width="3" stroke-linecap="butt"/>
<line x1="876.06" y1="965.5" x2="876.06" y2="973.5" stroke="#000" stroke-width="3" stroke-linecap="butt"/>
<line x1="962.21" y1="965.5" x2="962.21" y2="973.5" stroke="#000" stroke-width="3" stroke-linecap="butt"/>
<line x1="1082.82" y1="965.5" x2="1082.82" y2="973.5" stroke="#000" stroke-width="3" stroke-linecap="butt"/>
<line x1="1324.04" y1="965.5" x2="1324.04" y2="973.5" stroke="#000" stroke-width="3" stroke-linecap="butt"/>
<line x1="850.22" y1="965.5" x2="850.22" y2="969.5" stroke="#000" stroke-width="2.8" stroke-linecap="butt"/>
<line x1="867.45" y1="965.5" x2="867.45" y2="969.5" stroke="#000" stroke-width="2.8" stroke-linecap="butt"/>
<line x1="919.13" y1="965.5" x2="919.13" y2="969.5" stroke="#000" stroke-width="2.8" stroke-linecap="butt"/>
<line x1="1022.51" y1="965.5" x2="1022.51" y2="969.5" stroke="#000" stroke-width="2.8" stroke-linecap="butt"/>
<line x1="1203.43" y1="965.5" x2="1203.43" y2="969.5" stroke="#000" stroke-width="2.8" stroke-linecap="butt"/>
<text x="841.6" y="1006.7" font-family='"Liberation Serif", serif' font-weight="bold" font-size="35.3" text-anchor="middle" >0</text>
<text x="858.83" y="1006.7" font-family='"Liberation Serif", serif' font-weight="bold" font-size="35.3" text-anchor="middle" >1</text>
<text x="876.06" y="1006.7" font-family='"Liberation Serif", serif' font-weight="bold" font-size="35.3" text-anchor="middle" >2</text>
<text x="962.21" y="1006.7" font-family='"Liberation Serif", serif' font-weight="bold" font-size="35.3" text-anchor="middle" >7</text>
<text x="1082.82" y="1006.7" font-family='"Liberation Serif", serif' font-weight="bold" font-size="35.3" text-anchor="middle" >14</text>
<text x="1324.04" y="1006.7" font-family='"Liberation Serif", serif' font-weight="bold" font-size="35.3" text-anchor="middle" >28</text>
<text x="1087.2" y="1046" font-family='"Liberation Serif", serif' font-weight="bold" font-size="34.8" text-anchor="middle" >Storage period (days)</text>
<text transform="translate(769,760.75) rotate(-90)" font-family='"Liberation Serif", serif' font-weight="bold" font-size="35.5" text-anchor="middle">CI (%)</text>
<line x1="1116.7" y1="821.9" x2="1187.7" y2="821.9" stroke="#333333" stroke-width="2.8" stroke-linecap="butt"/>
<rect x="1148.2" y="817.9" width="8" height="8" fill="#333333"/>
<text x="1194.2" y="832.4" font-family='"Liberation Serif", serif' font-weight="bold" font-size="30.3" text-anchor="start" >0.75% SA</text>
<line x1="1116.7" y1="859.9" x2="1187.7" y2="859.9" stroke="#e8262c" stroke-width="2.8" stroke-linecap="butt"/>
<circle cx="1152.2" cy="859.9" r="4.4" fill="#e8262c"/>
<text x="1194.2" y="870.4" font-family='"Liberation Serif", serif' font-weight="bold" font-size="30.3" text-anchor="start" >1% SA</text>
<line x1="1116.7" y1="897.9" x2="1187.7" y2="897.9" stroke="#1a55d6" stroke-width="2.8" stroke-linecap="butt"/>
<path d="M1152.2 892.3 L1157.2 901.5 L1147.2 901.5 Z" fill="#1a55d6"/>
<text x="1194.2" y="908.4" font-family='"Liberation Serif", serif' font-weight="bold" font-size="30.3" text-anchor="start" >1.25% SA</text>
<line x1="1116.7" y1="935.9" x2="1187.7" y2="935.9" stroke="#1f9a4e" stroke-width="2.8" stroke-linecap="butt"/>
<path d="M1152.2 941.5 L1157.2 932.3 L1147.2 932.3 Z" fill="#1f9a4e"/>
<text x="1194.2" y="946.4" font-family='"Liberation Serif", serif' font-weight="bold" font-size="30.3" text-anchor="start" >1.5% SA</text>
<text x="742.6" y="544.8" font-family='"Liberation Sans", sans-serif' font-weight="bold" font-size="35" text-anchor="start" stroke="#000" stroke-width="0.6">D</text>
</svg></body></html>
